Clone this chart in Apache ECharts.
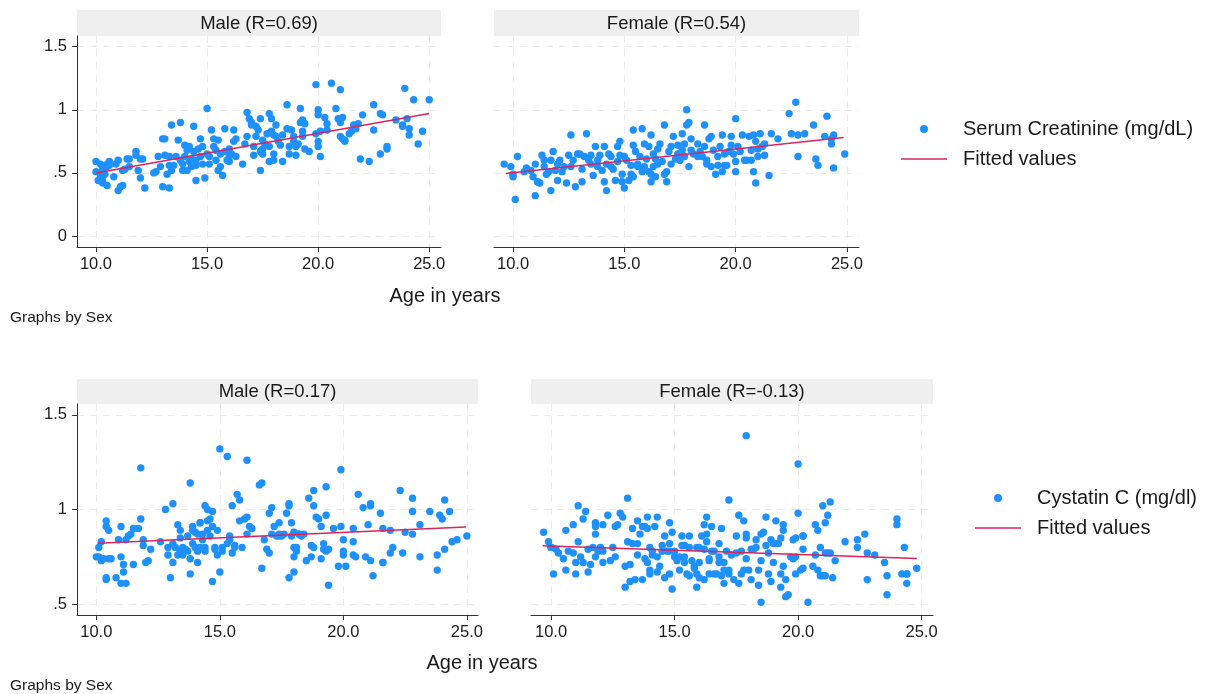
<!DOCTYPE html>
<html>
<head>
<meta charset="utf-8">
<script src="https://cdn.jsdelivr.net/npm/echarts@6/dist/echarts.min.js"></script>
<style>
html,body{margin:0;padding:0;background:#fff;}
#chart{width:1205px;height:694px;}
</style>
</head>
<body>
<div id="chart"></div>
<script>
// ---------- DATA ----------
const panelTitles = ['Male (R=0.69)', 'Female (R=0.54)', 'Male (R=0.17)', 'Female (R=-0.13)'];
const xTicks = [10, 15, 20, 25];
const yTicksTop = [0, 0.5, 1, 1.5];
const yTicksBottom = [0.5, 1, 1.5];
const creatName = 'Serum Creatinine (mg/dL)';
const cysName = 'Cystatin C (mg/dl)';
const fitName = 'Fitted values';

// Serum creatinine, male: [age, value]
const maleCreat = [
[10.0,0.59],[10.0,0.51],[10.2,0.57],[10.3,0.52],[10.3,0.55],[10.5,0.57],[10.6,0.59],[10.4,0.49],[10.2,0.46],[10.3,0.43],
[10.3,0.42],[10.5,0.40],[10.2,0.48],[10.1,0.44],[10.3,0.47],[10.5,0.55],[10.6,0.56],[10.8,0.47],[10.9,0.57],[11.0,0.60],
[11.0,0.36],[11.1,0.39],[11.2,0.40],[11.2,0.52],[11.3,0.53],[11.4,0.61],[11.5,0.55],[11.5,0.61],[11.8,0.67],[11.8,0.64],
[11.9,0.52],[12.0,0.46],[12.0,0.61],[12.1,0.61],[12.2,0.38],[12.6,0.50],[12.7,0.51],[12.8,0.63],[12.9,0.55],[13.0,0.39],
[13.0,0.77],[13.1,0.77],[13.1,0.64],[13.2,0.49],[13.3,0.63],[13.3,0.56],[13.3,0.38],[13.4,0.88],[13.4,0.52],[13.5,0.56],
[13.6,0.63],[13.7,0.76],[13.8,0.90],[13.8,0.60],[13.9,0.52],[13.9,0.57],[14.0,0.72],[14.0,0.63],[14.1,0.68],[14.1,0.52],
[14.2,0.71],[14.2,0.59],[14.3,0.61],[14.3,0.55],[14.4,0.67],[14.4,0.87],[14.5,0.44],[14.5,0.56],[14.5,0.60],[14.6,0.69],
[14.7,0.77],[14.7,0.63],[14.8,0.71],[14.8,0.57],[14.9,0.46],[15.0,0.65],[15.0,1.01],[15.1,0.57],[15.1,0.63],[15.2,0.84],
[15.3,0.77],[15.3,0.71],[15.4,0.60],[15.4,0.68],[15.5,0.76],[15.5,0.52],[15.6,0.55],[15.6,0.65],[15.7,0.48],[15.8,0.85],
[15.8,0.67],[15.9,0.60],[16.0,0.63],[16.0,0.59],[16.0,0.69],[16.1,0.65],[16.2,0.84],[16.2,0.75],[16.3,0.63],[16.3,0.77],
[16.6,0.57],[16.7,0.73],[16.8,0.98],[16.8,0.79],[16.9,0.93],[17.0,0.90],[17.0,0.88],[17.1,0.64],[17.1,0.71],[17.2,0.79],
[17.2,0.87],[17.3,0.84],[17.4,0.52],[17.4,0.93],[17.4,0.67],[17.5,0.76],[17.5,0.65],[17.5,0.69],[17.6,0.73],[17.7,0.81],
[17.8,0.71],[17.8,0.97],[17.8,0.59],[17.9,0.93],[17.9,0.83],[18.0,0.80],[18.0,0.60],[18.0,0.65],[18.1,0.88],[18.1,0.79],
[18.2,0.75],[18.3,0.72],[18.4,0.80],[18.4,0.59],[18.6,1.04],[18.6,0.85],[18.7,0.65],[18.7,0.71],[18.8,0.84],[18.9,0.79],
[18.9,0.75],[19.0,0.71],[19.0,0.64],[19.1,0.73],[19.2,1.01],[19.2,0.90],[19.3,0.92],[19.3,0.83],[19.3,0.79],[19.4,0.89],
[19.4,0.69],[19.6,0.67],[19.9,0.81],[19.9,1.20],[20.0,0.71],[20.0,1.00],[20.0,0.96],[20.0,0.75],[20.1,0.63],[20.1,0.83],
[20.3,0.94],[20.4,0.89],[20.4,0.84],[20.6,1.21],[20.8,1.01],[20.9,0.93],[21.0,1.16],[21.0,0.79],[21.0,0.90],[21.1,0.94],
[21.1,0.77],[21.2,0.76],[21.2,0.75],[21.4,0.81],[21.5,0.83],[21.6,0.88],[21.7,0.85],[21.8,0.89],[21.9,0.61],[22.0,0.96],
[22.3,0.59],[22.5,1.04],[22.5,0.84],[22.8,0.65],[22.8,0.97],[22.9,0.96],[23.1,0.69],[23.1,0.71],[23.5,0.92],[23.8,0.88],
[23.8,0.87],[23.9,1.17],[24.0,0.93],[24.1,0.85],[24.1,0.80],[24.3,1.08],[24.5,0.73],[24.7,0.83],[25.0,1.08]
];

// Serum creatinine, female
const femaleCreat = [
[9.6,0.57],[9.9,0.55],[10.0,0.49],[10.0,0.47],[10.1,0.29],[10.2,0.63],[10.5,0.51],[10.6,0.54],[10.8,0.52],[10.9,0.47],
[11.0,0.32],[11.0,0.57],[11.1,0.43],[11.1,0.43],[11.2,0.42],[11.3,0.64],[11.4,0.60],[11.4,0.55],[11.5,0.49],[11.6,0.51],
[11.7,0.36],[11.7,0.60],[11.8,0.67],[11.9,0.52],[12.0,0.57],[12.0,0.44],[12.1,0.60],[12.2,0.51],[12.3,0.55],[12.4,0.42],
[12.5,0.64],[12.6,0.55],[12.6,0.80],[12.7,0.60],[12.8,0.39],[12.9,0.65],[13.0,0.65],[13.1,0.43],[13.1,0.53],[13.2,0.63],
[13.3,0.81],[13.4,0.60],[13.5,0.57],[13.5,0.64],[13.6,0.48],[13.7,0.71],[13.8,0.60],[13.8,0.55],[13.9,0.64],[14.0,0.52],
[14.1,0.71],[14.1,0.43],[14.2,0.57],[14.2,0.36],[14.3,0.65],[14.4,0.55],[14.4,0.63],[14.5,0.53],[14.6,0.44],[14.7,0.71],
[14.7,0.59],[14.8,0.75],[14.8,0.64],[14.9,0.49],[14.9,0.43],[15.0,0.38],[15.0,0.63],[15.1,0.60],[15.2,0.44],[15.3,0.49],
[15.3,0.56],[15.4,0.72],[15.4,0.84],[15.4,0.47],[15.5,0.67],[15.6,0.55],[15.6,0.57],[15.7,0.63],[15.8,0.51],[15.8,0.85],
[15.9,0.73],[15.9,0.55],[16.0,0.61],[16.1,0.71],[16.1,0.51],[16.2,0.49],[16.2,0.43],[16.2,0.80],[16.3,0.65],[16.3,0.55],
[16.4,0.47],[16.4,0.61],[16.5,0.69],[16.5,0.57],[16.6,0.73],[16.7,0.59],[16.8,0.49],[16.8,0.88],[16.9,0.43],[16.9,0.51],
[17.0,0.67],[17.1,0.57],[17.1,0.71],[17.2,0.79],[17.3,0.61],[17.4,0.65],[17.4,0.72],[17.5,0.60],[17.6,0.68],[17.6,0.81],
[17.7,0.73],[17.7,0.63],[17.8,0.88],[17.8,1.00],[17.9,0.55],[17.9,0.90],[18.0,0.77],[18.0,0.68],[18.1,0.65],[18.3,0.63],
[18.3,0.73],[18.4,0.67],[18.5,0.63],[18.6,0.88],[18.6,0.71],[18.7,0.60],[18.7,0.57],[18.8,0.77],[18.9,0.79],[18.9,0.55],
[19.0,0.68],[19.1,0.49],[19.2,0.63],[19.2,0.56],[19.3,0.71],[19.4,0.51],[19.4,0.80],[19.5,0.65],[19.5,0.56],[19.6,0.56],
[19.7,0.67],[19.8,0.72],[19.8,0.79],[19.9,0.65],[20.0,0.59],[20.0,0.93],[20.0,0.51],[20.1,0.71],[20.2,0.67],[20.3,0.80],
[20.4,0.60],[20.5,0.60],[20.6,0.79],[20.7,0.60],[20.7,0.68],[20.8,0.51],[20.8,0.80],[20.9,0.75],[20.9,0.42],[21.0,0.69],
[21.0,0.63],[21.1,0.81],[21.2,0.71],[21.3,0.64],[21.3,0.73],[21.5,0.48],[21.6,0.81],[21.9,0.77],[22.4,0.97],[22.5,0.81],
[22.7,1.06],[22.8,0.80],[22.8,0.63],[23.1,0.81],[23.5,0.88],[23.6,0.61],[23.7,0.56],[24.0,0.79],[24.1,0.95],[24.3,0.73],
[24.3,0.77],[24.4,0.80],[24.4,0.54],[24.9,0.65]
];

// Cystatin C, male
const maleCys = [
[10.0,0.75],[10.1,0.80],[10.1,0.75],[10.2,0.83],[10.2,0.73],[10.3,0.74],[10.4,0.64],[10.4,0.63],[10.4,0.94],[10.4,0.91],
[10.5,0.89],[10.5,0.74],[10.6,0.74],[10.8,0.64],[10.9,0.84],[11.0,0.91],[11.0,0.61],[11.0,0.75],[11.1,0.71],[11.1,0.67],
[11.2,0.61],[11.2,0.84],[11.3,0.86],[11.4,0.87],[11.5,0.71],[11.5,0.90],[11.7,0.90],[11.8,1.22],[11.8,0.95],[11.9,0.84],
[11.9,0.81],[12.0,0.72],[12.1,0.73],[12.2,0.79],[12.6,0.83],[12.8,1.00],[12.9,0.76],[12.9,0.80],[13.0,0.64],[13.1,1.03],
[13.1,0.72],[13.1,0.82],[13.2,0.80],[13.3,0.76],[13.3,0.92],[13.4,0.89],[13.4,0.85],[13.4,0.78],[13.5,0.76],[13.5,0.80],
[13.6,0.79],[13.7,0.86],[13.7,0.78],[13.8,1.14],[13.8,0.66],[13.8,0.74],[13.9,0.89],[13.9,0.82],[13.9,0.91],[14.0,0.80],
[14.0,0.88],[14.1,0.78],[14.1,0.87],[14.1,0.72],[14.2,0.93],[14.2,0.80],[14.2,0.93],[14.3,0.87],[14.3,0.84],[14.4,0.80],
[14.4,0.78],[14.4,1.02],[14.5,1.00],[14.5,0.89],[14.5,0.94],[14.6,0.86],[14.6,0.95],[14.7,0.91],[14.7,0.62],[14.7,0.99],
[14.8,0.80],[14.8,0.79],[14.9,0.76],[14.9,0.89],[15.0,1.32],[15.0,0.67],[15.1,0.78],[15.1,0.80],[15.3,1.28],[15.3,0.82],
[15.4,0.84],[15.4,0.86],[15.5,1.02],[15.5,0.77],[15.6,0.81],[15.6,0.80],[15.7,1.08],[15.8,1.05],[15.8,0.94],[15.9,0.80],
[16.0,0.95],[16.1,0.96],[16.1,0.87],[16.1,1.26],[16.2,0.91],[16.3,0.90],[16.6,1.13],[16.7,1.14],[16.7,0.69],[16.8,0.84],
[16.9,0.79],[17.0,0.77],[17.0,0.98],[17.1,1.01],[17.1,0.87],[17.2,0.91],[17.3,0.86],[17.4,0.87],[17.4,0.93],[17.4,0.86],
[17.5,0.86],[17.6,0.87],[17.7,0.98],[17.8,1.02],[17.8,1.03],[17.8,0.64],[17.9,0.93],[17.9,0.86],[18.0,0.80],[18.0,0.67],
[18.0,0.75],[18.0,0.88],[18.1,0.80],[18.1,0.78],[18.2,0.87],[18.2,0.87],[18.3,0.86],[18.4,0.87],[18.5,0.73],[18.6,1.06],
[18.7,0.81],[18.7,0.75],[18.8,1.10],[18.8,0.80],[18.8,1.02],[18.9,0.96],[19.0,0.95],[19.1,0.74],[19.1,0.91],[19.2,0.82],
[19.2,0.79],[19.3,0.78],[19.3,1.12],[19.3,0.97],[19.4,0.60],[19.4,0.79],[19.6,0.90],[19.8,0.70],[19.9,1.21],[19.9,0.91],
[20.0,0.84],[20.0,0.76],[20.0,0.78],[20.1,0.70],[20.4,0.90],[20.4,0.83],[20.4,0.76],[20.5,0.75],[20.6,1.08],[20.8,1.01],
[20.9,0.75],[21.0,0.92],[21.1,1.02],[21.1,1.03],[21.1,0.73],[21.2,0.65],[21.5,0.98],[21.6,0.72],[21.6,0.90],[21.6,0.72],
[21.9,0.89],[21.9,0.77],[22.0,0.80],[22.3,1.10],[22.4,0.77],[22.5,0.88],[22.8,1.06],[22.8,0.99],[22.8,0.87],[23.1,0.92],
[23.1,0.75],[23.5,0.99],[23.8,0.76],[23.8,0.68],[23.9,0.97],[24.0,0.95],[24.1,1.05],[24.1,0.79],[24.3,0.99],[24.4,0.83],
[24.6,0.84],[25.0,0.86]
];

// Cystatin C, female
const femaleCys = [
[9.7,0.88],[9.9,0.83],[10.0,0.80],[10.0,0.80],[10.1,0.66],[10.2,0.79],[10.3,0.77],[10.5,0.74],[10.6,0.89],[10.6,0.68],
[10.7,0.78],[10.9,0.92],[10.9,0.77],[11.0,0.66],[11.0,0.72],[11.1,0.83],[11.1,1.02],[11.2,0.75],[11.3,0.95],[11.3,0.72],
[11.4,0.99],[11.5,0.67],[11.5,0.79],[11.6,0.71],[11.7,0.80],[11.8,0.93],[11.8,0.91],[11.8,0.87],[11.8,0.75],[11.9,0.78],
[12.0,0.80],[12.1,0.78],[12.1,0.72],[12.1,0.92],[12.3,0.97],[12.4,0.73],[12.5,0.80],[12.6,0.75],[12.6,0.91],[12.7,0.92],
[12.8,0.98],[12.9,0.96],[13.0,0.70],[13.0,0.59],[13.1,1.06],[13.1,0.83],[13.2,0.71],[13.2,0.62],[13.3,0.82],[13.3,0.90],
[13.4,0.63],[13.5,0.94],[13.5,0.76],[13.5,0.82],[13.6,0.87],[13.7,0.91],[13.7,0.63],[13.8,0.91],[13.8,0.74],[13.9,0.72],
[13.9,0.96],[13.9,0.90],[14.0,0.66],[14.0,0.80],[14.0,0.68],[14.1,0.76],[14.1,0.78],[14.2,0.91],[14.3,0.96],[14.3,0.75],
[14.3,0.67],[14.4,0.70],[14.5,0.78],[14.5,0.81],[14.6,0.64],[14.6,0.86],[14.7,0.78],[14.8,0.82],[14.8,0.93],[14.8,0.66],
[14.8,0.78],[14.9,0.88],[14.9,0.58],[15.0,0.75],[15.0,0.78],[15.1,0.73],[15.2,0.75],[15.2,0.68],[15.3,0.81],[15.3,0.86],
[15.4,0.75],[15.4,0.72],[15.4,0.81],[15.5,0.66],[15.6,0.86],[15.6,0.80],[15.6,0.65],[15.7,0.73],[15.8,0.69],[15.8,0.70],
[15.9,0.80],[15.9,0.59],[15.9,0.66],[16.0,0.64],[16.0,0.72],[16.0,0.80],[16.1,0.86],[16.2,0.92],[16.2,0.63],[16.2,0.79],
[16.3,0.83],[16.3,0.96],[16.3,0.87],[16.4,0.73],[16.4,0.66],[16.4,0.74],[16.5,0.91],[16.5,0.78],[16.6,0.66],[16.6,0.78],
[16.7,0.66],[16.8,0.72],[16.8,0.82],[16.8,0.75],[16.9,0.90],[16.9,0.65],[17.0,0.61],[17.0,0.72],[17.0,0.68],[17.1,0.78],
[17.2,0.68],[17.2,1.05],[17.2,0.66],[17.3,0.76],[17.4,0.63],[17.5,0.86],[17.5,0.77],[17.6,0.61],[17.6,0.97],[17.7,0.78],
[17.7,0.66],[17.8,0.94],[17.8,0.68],[17.9,0.87],[17.9,0.85],[17.9,0.74],[17.9,1.39],[18.0,0.68],[18.1,0.79],[18.1,0.63],
[18.2,0.79],[18.3,0.84],[18.3,0.80],[18.4,0.68],[18.4,0.60],[18.5,0.51],[18.5,0.87],[18.5,0.73],[18.6,0.88],[18.7,0.81],
[18.7,0.96],[18.8,0.77],[18.8,0.66],[18.9,0.84],[18.9,0.62],[19.0,0.72],[19.0,0.82],[19.1,0.82],[19.1,0.94],[19.2,0.82],
[19.3,0.59],[19.3,0.85],[19.3,0.66],[19.4,0.89],[19.4,0.92],[19.4,0.70],[19.5,0.63],[19.5,0.54],[19.6,0.55],[19.7,0.75],
[19.8,0.84],[19.8,0.74],[19.9,0.85],[19.9,0.66],[19.9,0.75],[20.0,0.98],[20.0,1.24],[20.1,0.68],[20.2,0.79],[20.2,0.69],
[20.2,0.86],[20.2,0.86],[20.4,0.51],[20.6,0.70],[20.7,0.92],[20.7,0.76],[20.8,0.68],[20.8,0.89],[20.9,0.65],[20.9,0.80],
[21.0,1.02],[21.0,0.65],[21.1,0.93],[21.1,0.77],[21.1,0.65],[21.2,0.97],[21.2,0.77],[21.3,1.04],[21.3,0.77],[21.4,0.64],
[21.5,0.73],[21.9,0.83],[22.4,0.80],[22.4,0.84],[22.7,0.87],[22.8,0.77],[22.8,0.63],[23.1,0.76],[23.5,0.72],[23.6,0.65],
[23.6,0.55],[24.0,0.92],[24.0,0.95],[24.2,0.66],[24.3,0.80],[24.4,0.66],[24.4,0.61],[24.4,0.66],[24.8,0.69]
];

// Fitted (linear regression) line end points
const maleCreatFit = [[10.0, 0.50], [25.0, 0.97]];
const femaleCreatFit = [[9.67, 0.495], [24.85, 0.78]];
const maleCysFit = [[10.05, 0.822], [24.97, 0.907]];
const femaleCysFit = [[9.66, 0.808], [24.81, 0.741]];

// ---------- STYLE ----------
const FONT = "'Liberation Sans', Arial, Helvetica, sans-serif";
const DOT = '#1e90ff';
const FIT = '#d9245e';
const AXIS = '#333333';
const GRID = '#ebebeb';
const TXT = '#1a1a1a';

const grids = [
  {left: 77,  top: 36,  width: 364, height: 211},
  {left: 494, top: 36,  width: 365, height: 211},
  {left: 77,  top: 404, width: 401, height: 211},
  {left: 531, top: 404, width: 402, height: 211}
];
const xRanges = [[9.145, 25.53], [9.145, 25.54], [9.218, 25.45], [9.19, 25.46]];
const yRanges = [[-0.087, 1.585], [-0.087, 1.585], [0.443, 1.557], [0.443, 1.557]];

function yFmt(v) {
  if (v === 0) return '0';
  let s = String(+v.toFixed(2));
  return s.replace(/^0\./, '.');
}

const xAxis = grids.map((g, i) => ({
  type: 'value', gridIndex: i, min: xRanges[i][0], max: xRanges[i][1],
  axisLine: {show: true, onZero: false, lineStyle: {color: AXIS, width: 1}},
  axisTick: {show: true, length: 5, customValues: xTicks, lineStyle: {color: AXIS}},
  axisLabel: {customValues: xTicks, formatter: v => v.toFixed(1), color: TXT, fontSize: 16.5, fontFamily: FONT, margin: 9},
  splitLine: {show: true, lineStyle: {color: GRID, type: [7, 6], width: 1}}
}));

const yAxis = grids.map((g, i) => {
  const ticks = i < 2 ? yTicksTop : yTicksBottom;
  const left = (i % 2 === 0);
  return {
    type: 'value', gridIndex: i, min: yRanges[i][0], max: yRanges[i][1],
    axisLine: {show: left, onZero: false, lineStyle: {color: AXIS, width: 1}},
    axisTick: {show: left, length: 5, customValues: ticks, lineStyle: {color: AXIS}},
    axisLabel: {show: left, customValues: ticks, formatter: yFmt, color: TXT, fontSize: 16.5, fontFamily: FONT, margin: 10},
    splitLine: {show: true, lineStyle: {color: GRID, type: [7, 6], width: 1}}
  };
});

const scatterSets = [maleCreat, femaleCreat, maleCys, femaleCys];
const fitSets = [maleCreatFit, femaleCreatFit, maleCysFit, femaleCysFit];
const series = [];
scatterSets.forEach((d, i) => {
  series.push({
    name: i < 2 ? creatName : cysName, type: 'scatter', xAxisIndex: i, yAxisIndex: i,
    data: d, symbol: 'circle', symbolSize: 7.4, itemStyle: {color: DOT, opacity: 1},
    emphasis: {disabled: true}, z: 2
  });
});
fitSets.forEach((d, i) => {
  series.push({
    name: fitName, type: 'line', xAxisIndex: i, yAxisIndex: i, data: d,
    symbol: 'none', showSymbol: false, lineStyle: {color: FIT, width: 1.5}, itemStyle: {color: FIT},
    emphasis: {disabled: true}, z: 3
  });
});

// panel header strips and titles
const graphic = [];
const bands = [
  {x: 77,  y: 10,  w: 364, h: 26},
  {x: 494, y: 10,  w: 365, h: 26},
  {x: 77,  y: 379, w: 401, h: 25},
  {x: 531, y: 379, w: 402, h: 25}
];
bands.forEach((b, i) => {
  graphic.push({type: 'rect', shape: {x: b.x, y: b.y, width: b.w, height: b.h}, style: {fill: '#efefef'}, silent: true, z: 0});
  graphic.push({type: 'text', x: b.x + b.w / 2, y: b.y + b.h / 2 + 0.5,
    style: {text: panelTitles[i], fill: TXT, font: '18.5px ' + FONT, textAlign: 'center', textVerticalAlign: 'middle'}, silent: true});
});
graphic.push({type: 'text', x: 445, y: 296, style: {text: 'Age in years', fill: TXT, font: '20px ' + FONT, textAlign: 'center', textVerticalAlign: 'middle'}});
graphic.push({type: 'text', x: 482, y: 663, style: {text: 'Age in years', fill: TXT, font: '20px ' + FONT, textAlign: 'center', textVerticalAlign: 'middle'}});
graphic.push({type: 'text', x: 10, y: 318, style: {text: 'Graphs by Sex', fill: TXT, font: '15.5px ' + FONT, textAlign: 'left', textVerticalAlign: 'middle'}});
graphic.push({type: 'text', x: 10, y: 686, style: {text: 'Graphs by Sex', fill: TXT, font: '15.5px ' + FONT, textAlign: 'left', textVerticalAlign: 'middle'}});

const lineIcon = 'path://M0,0L46,0L46,1.5L0,1.5Z';
const legendCommon = {
  orient: 'vertical', itemWidth: 46, itemHeight: 8, itemGap: 10, padding: 0,
  selectedMode: false, symbolKeepAspect: true,
  textStyle: {fontSize: 20, fontFamily: FONT, color: TXT, padding: [0, 0, 0, 11]}
};

const option = {
  animation: false,
  backgroundColor: '#ffffff',
  grid: grids.map(g => Object.assign({containLabel: false}, g)),
  xAxis, yAxis, series, graphic,
  legend: [
    Object.assign({}, legendCommon, {left: 901, top: 119, data: [{name: creatName, icon: 'circle'}, {name: fitName, icon: lineIcon, itemStyle: {color: FIT}}]}),
    Object.assign({}, legendCommon, {left: 975, top: 488, data: [{name: cysName, icon: 'circle'}, {name: fitName, icon: lineIcon, itemStyle: {color: FIT}}]})
  ]
};

const chart = echarts.init(document.getElementById('chart'), null, {renderer: 'canvas'});
chart.setOption(option);
</script>
</body>
</html>
